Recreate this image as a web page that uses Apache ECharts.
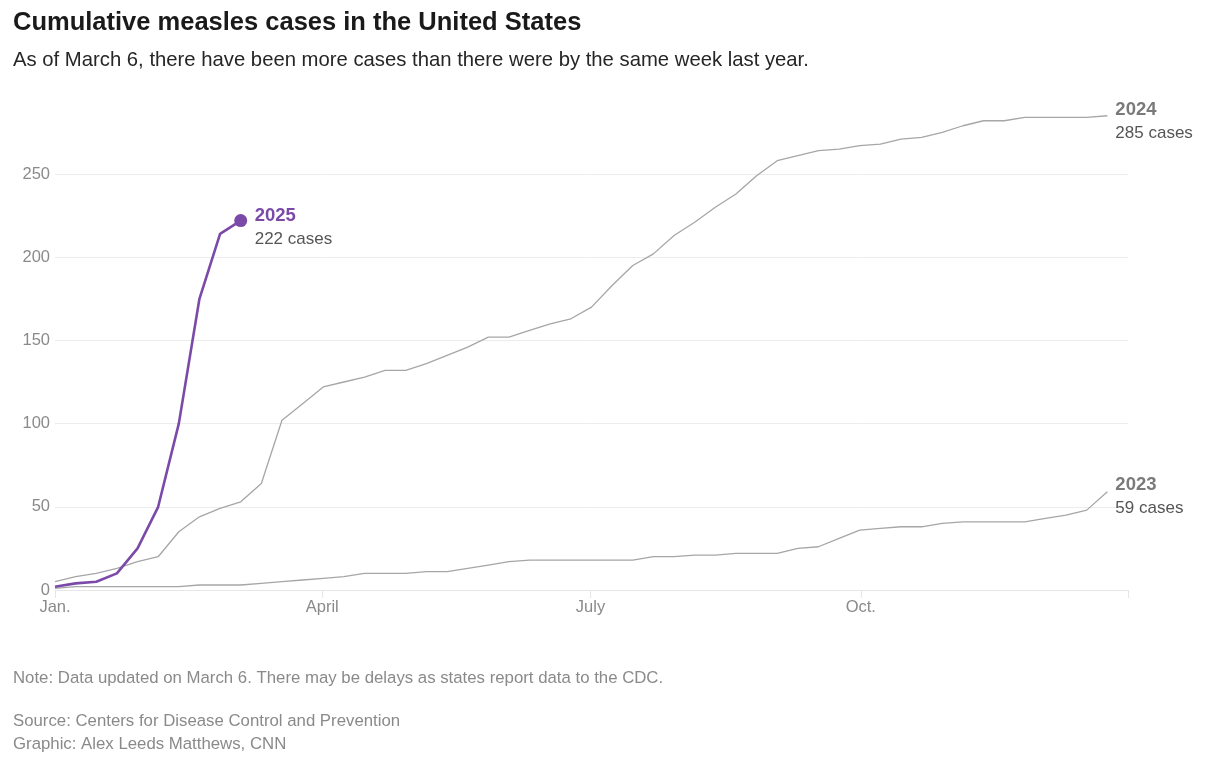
<!DOCTYPE html>
<html><head><meta charset="utf-8">
<script src="https://cdn.jsdelivr.net/npm/echarts@6/dist/echarts.min.js"></script>
<style>body{margin:0;background:#fff;font-family:"Helvetica Neue",Arial,"Liberation Sans",sans-serif}#c{width:1208px;height:757px}</style>
</head><body><div id="c"></div>
<script>
const cases2025 = [2,4,5,10,25,50,100,175,214,222];
const cases2024 = [5,8,10,13,17,20,35,44,49,53,64,102,112,122,125,128,132,132,136,141,146,152,152,156,160,163,170,183,195,202,213,221,230,238,249,258,261,264,265,267,268,271,272,275,279,282,282,284,284,284,284,285];
const cases2023 = [1,2,2,2,2,2,2,3,3,3,4,5,6,7,8,10,10,10,11,11,13,15,17,18,18,18,18,18,18,20,20,21,21,22,22,22,25,26,31,36,37,38,38,40,41,41,41,41,43,45,48,59];
const monthTicks = [0, 12.95, 25.95, 39.05];
const monthLabels = ['Jan.', 'April', 'July', 'Oct.'];
const toPts = a => a.map((v, i) => [i, v]);
const F = 'Arial, "Liberation Sans", sans-serif';
const chart = echarts.init(document.getElementById('c'));
const endLbl = (yr, n, col, numCol, dist, dy) => ({
  show: true, distance: dist, offset: [0, dy],
  formatter: '{y|' + yr + '}\n{n|' + n + ' cases}',
  rich: { y: { fontSize: 18.5, fontWeight: 'bold', color: col, fontFamily: F, lineHeight: 25 },
          n: { fontSize: 17, color: numCol, fontFamily: F, lineHeight: 22 } }
});
chart.setOption({
  animation: false,
  title: [
    { text: 'Cumulative measles cases in the United States', left: 8, top: 5,
      textStyle: { fontSize: 25.5, fontWeight: 'bold', color: '#1a1a1a', fontFamily: F } },
    { text: 'As of March 6, there have been more cases than there were by the same week last year.', left: 8, top: 45,
      textStyle: { fontSize: 20.3, fontWeight: 'normal', color: '#262626', fontFamily: F } },
    { text: 'Note: Data updated on March 6. There may be delays as states report data to the CDC.', left: 8, top: 665,
      textStyle: { fontSize: 16.8, fontWeight: 'normal', color: '#8a8a8a', fontFamily: F } },
    { text: 'Source: Centers for Disease Control and Prevention\nGraphic: Alex Leeds Matthews, CNN', left: 8, top: 705,
      textStyle: { fontSize: 16.8, fontWeight: 'normal', color: '#8a8a8a', fontFamily: F, lineHeight: 23 } }
  ],
  grid: { left: 55, right: 80, top: 174, bottom: 167 },
  xAxis: { type: 'value', min: 0, max: 52,
    axisLine: { show: true, lineStyle: { color: '#e6e6e6' } },
    axisTick: { show: true, customValues: monthTicks.concat([52]), length: 8, lineStyle: { color: '#e6e6e6' } },
    axisLabel: { customValues: monthTicks, fontSize: 16.5, color: '#8a8a8a', fontFamily: F, margin: 9,
      formatter: v => { const i = monthTicks.findIndex(t => Math.abs(t - v) < 0.01); return i >= 0 ? monthLabels[i] : ''; } },
    splitLine: { show: false } },
  yAxis: { type: 'value', min: 0, max: 250, interval: 50,
    axisLine: { show: false }, axisTick: { show: false },
    axisLabel: { fontSize: 16.5, color: '#8a8a8a', fontFamily: F, margin: 5 },
    splitLine: { lineStyle: { color: '#ececec' } } },
  series: [
    { name: '2023', type: 'line', data: toPts(cases2023), symbol: 'none', clip: false,
      lineStyle: { color: '#a6a6a6', width: 1.3 }, endLabel: endLbl('2023', 59, '#7a7a7a', '#555', 8, 4) },
    { name: '2024', type: 'line', data: toPts(cases2024), symbol: 'none', clip: false,
      lineStyle: { color: '#a6a6a6', width: 1.3 }, endLabel: endLbl('2024', 285, '#7a7a7a', '#555', 8, 5) },
    { name: '2025', type: 'line', data: toPts(cases2025), clip: false,
      symbol: (v, p) => p.dataIndex === cases2025.length - 1 ? 'circle' : 'none', symbolSize: 13,
      showAllSymbol: true,
      itemStyle: { color: '#7b4aa8' }, lineStyle: { color: '#7b4aa8', width: 2.6 },
      endLabel: endLbl('2025', 222, '#7b4aa8', '#555', 14, 6) }
  ]
});
</script></body></html>
